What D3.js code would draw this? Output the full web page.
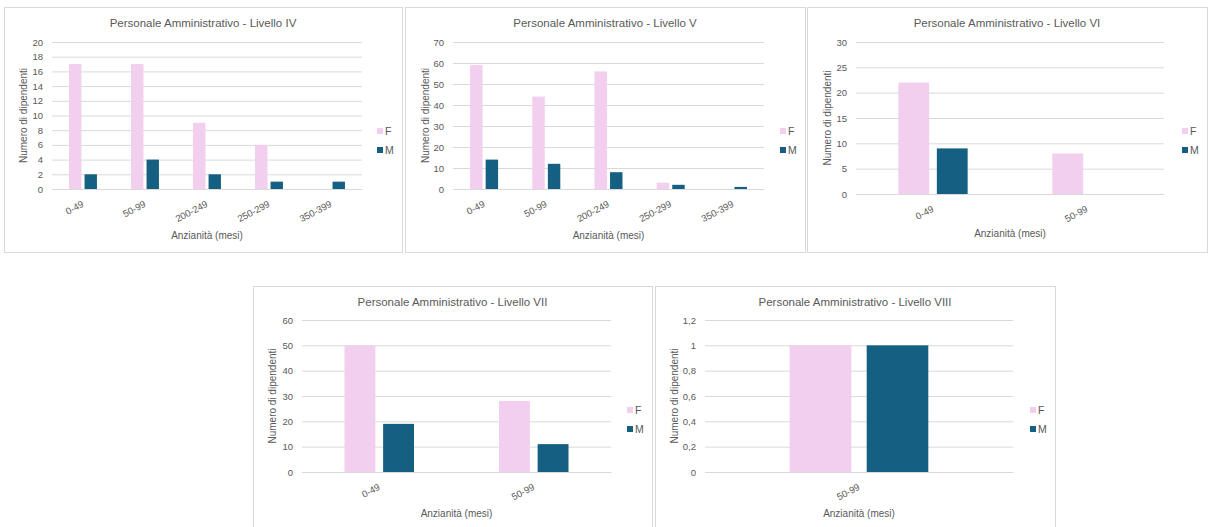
<!DOCTYPE html>
<html>
<head>
<meta charset="utf-8">
<script src="https://cdn.jsdelivr.net/npm/d3@7"></script>
<style>
  html, body { margin: 0; padding: 0; background: #fff; }
  svg { display: block; }
  text { font-family: "Liberation Sans", Arial, sans-serif; fill: #595959; }
</style>
</head>
<body>
<svg id="chart" width="1211" height="527"></svg>
<script>
// ---------------- DATA ----------------
const seriesNames = ["F", "M"];

const titleIV = "Personale Amministrativo - Livello IV";
const catsIV = ["0-49", "50-99", "200-249", "250-299", "350-399"];
const fIV = [17, 17, 9, 6, 0];
const mIV = [2, 4, 2, 1, 1];
const ticksIV = [0, 2, 4, 6, 8, 10, 12, 14, 16, 18, 20];

const titleV = "Personale Amministrativo - Livello V";
const catsV = ["0-49", "50-99", "200-249", "250-299", "350-399"];
const fV = [59, 44, 56, 3, 0];
const mV = [14, 12, 8, 2, 1];
const ticksV = [0, 10, 20, 30, 40, 50, 60, 70];

const titleVI = "Personale Amministrativo - Livello VI";
const catsVI = ["0-49", "50-99"];
const fVI = [22, 8];
const mVI = [9, 0];
const ticksVI = [0, 5, 10, 15, 20, 25, 30];

const titleVII = "Personale Amministrativo - Livello VII";
const catsVII = ["0-49", "50-99"];
const fVII = [50, 28];
const mVII = [19, 11];
const ticksVII = [0, 10, 20, 30, 40, 50, 60];

const titleVIII = "Personale Amministrativo - Livello VIII";
const catsVIII = ["50-99"];
const fVIII = [1];
const mVIII = [1];
const ticksVIII = [0, 0.2, 0.4, 0.6, 0.8, 1, 1.2];

const yTitle = "Numero di dipendenti";
const xTitle = "Anzianità (mesi)";

// ---------------- STYLE / LAYOUT ----------------
const colors = { F: "#F2CEEF", M: "#156082" };
const itLocale = d3.formatLocale({ decimal: ",", thousands: ".", grouping: [3], currency: ["€", ""] });
const fmt = v => itLocale.format("~g")(v);

const svg = d3.select("#chart");

const panels = [
  { title: titleIV, cats: catsIV, f: fIV, m: mIV, ticks: ticksIV,
    box: [4, 7, 398, 245], gx: [52, 362], gy: [42, 189], yTitleX: 23, xTitleY: 235 },
  { title: titleV, cats: catsV, f: fV, m: mV, ticks: ticksV,
    box: [405, 7, 400, 245], gx: [453, 764], gy: [42, 189], yTitleX: 425, xTitleY: 235 },
  { title: titleVI, cats: catsVI, f: fVI, m: mVI, ticks: ticksVI,
    box: [807, 7, 400, 245], gx: [856, 1164], gy: [42, 194], yTitleX: 827, xTitleY: 233 },
  { title: titleVII, cats: catsVII, f: fVII, m: mVII, ticks: ticksVII,
    box: [253, 286, 399, 250], gx: [302, 611], gy: [320, 472], yTitleX: 272, xTitleY: 513 },
  { title: titleVIII, cats: catsVIII, f: fVIII, m: mVIII, ticks: ticksVIII,
    box: [655, 286, 400, 250], gx: [705, 1013], gy: [320, 472], yTitleX: 674, xTitleY: 513 }
];

function drawPanel(p) {
  const g = svg.append("g");
  const [bx, by, bw, bh] = p.box;

  g.append("rect")
    .attr("x", bx + 0.5).attr("y", by + 0.5)
    .attr("width", bw).attr("height", bh)
    .attr("fill", "#fff").attr("stroke", "#D9D9D9").attr("stroke-width", 1);

  const x = d3.scaleBand().domain(p.cats).range(p.gx).paddingInner(0).paddingOuter(0);
  const y = d3.scaleLinear().domain([0, d3.max(p.ticks)]).range([p.gy[1], p.gy[0]]);

  // gridlines + y tick labels
  const yAxis = g.append("g")
    .attr("transform", `translate(${p.gx[0]},0)`)
    .call(d3.axisLeft(y).tickValues(p.ticks).tickFormat(fmt)
      .tickSize(-(p.gx[1] - p.gx[0])).tickPadding(9));
  yAxis.select(".domain").remove();
  yAxis.selectAll(".tick line").attr("stroke", "#D9D9D9").attr("stroke-width", 1);
  yAxis.selectAll(".tick text").attr("font-size", 9.5).attr("fill", "#595959")
    .style("font-family", "'Liberation Sans', Arial, sans-serif");

  // bars
  const band = x.bandwidth();
  const barW = band * 0.2;
  const gap = band * 0.05;
  const rows = p.cats.map((c, i) => ({ cat: c, F: p.f[i], M: p.m[i] }));

  seriesNames.forEach((s, si) => {
    g.append("g").selectAll("rect")
      .data(rows)
      .join("rect")
      .attr("x", d => x(d.cat) + band / 2 + (si === 0 ? -gap / 2 - barW : gap / 2))
      .attr("y", d => y(d[s]))
      .attr("width", barW)
      .attr("height", d => y(0) - y(d[s]))
      .attr("fill", colors[s]);
  });

  // x axis
  const xAxis = g.append("g")
    .attr("transform", `translate(0,${p.gy[1]})`)
    .call(d3.axisBottom(x).tickSize(0));
  xAxis.select(".domain").attr("stroke", "#D9D9D9");
  xAxis.selectAll(".tick text")
    .attr("x", 0).attr("y", 0).attr("dy", 0)
    .attr("text-anchor", "end")
    .attr("transform", "translate(1.5,17) rotate(-28)")
    .attr("font-size", 9.5).attr("fill", "#595959")
    .style("font-family", "'Liberation Sans', Arial, sans-serif");

  // title
  g.append("text")
    .attr("x", bx + bw / 2).attr("y", by + 16)
    .attr("dy", "0.35em")
    .attr("text-anchor", "middle")
    .attr("font-size", 11.5)
    .text(p.title);

  // y title
  const ym = (p.gy[0] + p.gy[1]) / 2;
  g.append("text")
    .attr("transform", `translate(${p.yTitleX},${ym}) rotate(-90)`)
    .attr("text-anchor", "middle")
    .attr("dy", "0.35em")
    .attr("font-size", 10)
    .text(yTitle);

  // x title
  g.append("text")
    .attr("x", (p.gx[0] + p.gx[1]) / 2).attr("y", p.xTitleY)
    .attr("dy", "0.35em")
    .attr("text-anchor", "middle")
    .attr("font-size", 10)
    .text(xTitle);

  // legend
  const lx = bx + bw - 25;
  const ly0 = by + 124;
  const leg = g.append("g");
  seriesNames.forEach((s, i) => {
    const yy = ly0 + i * 19;
    leg.append("rect")
      .attr("x", lx).attr("y", yy - 3)
      .attr("width", 6).attr("height", 6)
      .attr("fill", colors[s]);
    leg.append("text")
      .attr("x", lx + 8).attr("y", yy)
      .attr("dy", "0.35em")
      .attr("font-size", 10.5)
      .text(s);
  });
}

panels.forEach(drawPanel);
</script>
</body>
</html>
